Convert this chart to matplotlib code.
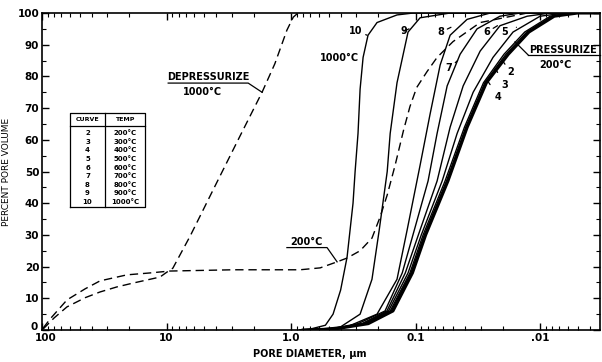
import numpy as np
import matplotlib
matplotlib.use("Agg")
import matplotlib.pyplot as plt
from matplotlib.ticker import FixedLocator, LogLocator, NullFormatter, MultipleLocator

# pore diameter (um) vs percent pore volume
c10_d = [0.85, 0.70, 0.53, 0.46, 0.40, 0.355, 0.318, 0.306, 0.290, 0.279, 0.264, 0.241, 0.204, 0.141, 0.105, 0.0033]
c10_v = [0, 0.3, 1.5, 5, 12.6, 23, 40, 50, 62, 76, 86, 93, 97, 99.4, 100, 100]

c9_d = [0.85, 0.58, 0.40, 0.279, 0.224, 0.196, 0.169, 0.160, 0.141, 0.115, 0.092, 0.053, 0.0033]
c9_v = [0, 0.3, 1, 5, 16, 31.5, 50, 62, 78, 94, 98.5, 100, 100]

c8_d = [0.85, 0.53, 0.355, 0.204, 0.141, 0.117, 0.092, 0.0766, 0.0635, 0.0528, 0.0386, 0.0252, 0.0033]
c8_v = [0, 0.3, 1, 5, 16, 31.5, 52, 68, 83.6, 93, 98, 100, 100]

c7_d = [0.80, 0.46, 0.29, 0.176, 0.128, 0.105, 0.0794, 0.0672, 0.0558, 0.0439, 0.0321, 0.021, 0.0145, 0.0033]
c7_v = [0, 0.5, 2, 6, 18, 30, 47, 62, 77, 87, 95, 99, 100, 100]

c6_d = [0.80, 0.46, 0.27, 0.17, 0.121, 0.095, 0.0672, 0.0528, 0.0415, 0.0303, 0.021, 0.0127, 0.0083, 0.0033]
c6_v = [0, 0.4, 2, 6, 18, 30, 47, 64, 77, 88, 96, 99, 100, 100]

c5_d = [0.80, 0.46, 0.26, 0.165, 0.115, 0.090, 0.0612, 0.0464, 0.0345, 0.0239, 0.0165, 0.010, 0.0063, 0.0033]
c5_v = [0, 0.4, 2, 6, 18, 30, 47, 62, 75, 86, 94, 99, 100, 100]

c4_d = [0.80, 0.45, 0.25, 0.16, 0.111, 0.087, 0.0580, 0.0405, 0.0285, 0.0195, 0.0133, 0.0083, 0.0055, 0.0033]
c4_v = [0, 0.4, 2, 6, 18, 30, 47, 64, 78, 87, 94, 99, 100, 100]

c3_d = [0.80, 0.45, 0.25, 0.157, 0.109, 0.085, 0.0565, 0.0395, 0.0278, 0.0188, 0.0128, 0.0080, 0.0053, 0.0033]
c3_v = [0, 0.4, 2, 6, 18, 30, 47, 64, 78, 87, 94, 99, 100, 100]

c2_d = [0.80, 0.45, 0.24, 0.152, 0.106, 0.083, 0.0550, 0.0385, 0.0270, 0.0180, 0.0123, 0.0077, 0.0050, 0.0033]
c2_v = [0, 0.3, 2, 6, 18, 30, 47, 64, 78, 87, 94, 99, 100, 100]

dep1000_d = [98, 80, 63, 45, 34.2, 25, 18.6, 11.3, 9.9, 8.9, 6.47, 3.93, 2.57, 1.71, 1.35, 1.08, 0.96, 0.88]
dep1000_v = [0.3, 3.8, 7.3, 10.2, 12, 13.6, 14.8, 16.7, 18.3, 19.5, 29.6, 46.7, 61.2, 75, 84, 94.6, 98.7, 100]

dep200_d = [98, 86, 63, 45, 34.2, 20.8, 13.6, 9.4, 2.9, 1.0, 0.847, 0.584, 0.427, 0.355, 0.279, 0.224, 0.193,
            0.169, 0.146, 0.125, 0.111, 0.098, 0.081, 0.0672, 0.050, 0.0303, 0.0127, 0.0033]
dep200_v = [0.6, 3.5, 9.5, 13, 15.5, 17.4, 18, 18.6, 19, 19, 19, 19.6, 21.5, 22.7, 25, 29, 35.6,
            42.6, 52, 63, 70.5, 76.5, 81.5, 86, 91, 97, 100, 100]

curve_no = ["2", "3", "4", "5", "6", "7", "8", "9", "10"]
curve_temp = ["200°C", "300°C", "400°C", "500°C", "600°C", "700°C", "800°C", "900°C", "1000°C"]

xticks = [100, 10, 1, 0.1, 0.01]
xtick_labels = ["", "10", "1.0", "0.1", ".01"]
yticks = np.arange(0, 101, 10)
ytick_labels = [""] + [str(t) for t in yticks[1:]]

plt.rcParams['font.family'] = 'DejaVu Sans'
plt.rcParams['font.weight'] = 'bold'

fig = plt.figure(figsize=(6.02, 3.62), dpi=100)
ax = fig.add_axes([0.0698, 0.0884, 0.927, 0.8756])

k = 'black'
for d, v in [(c10_d, c10_v), (c9_d, c9_v), (c8_d, c8_v), (c7_d, c7_v), (c6_d, c6_v),
             (c5_d, c5_v), (c4_d, c4_v), (c3_d, c3_v)]:
    ax.plot(d, v, color=k, lw=1.0)
ax.plot(c2_d, c2_v, color=k, lw=2.2)
ax.plot(dep1000_d, dep1000_v, color=k, lw=1.0, ls=(0, (6, 3.5)))
ax.plot(dep200_d, dep200_v, color=k, lw=1.0, ls=(0, (6, 3.5)))

ax.set_xscale('log')
ax.set_xlim(100, 0.0033)
ax.set_ylim(0, 100)

ax.xaxis.set_major_locator(FixedLocator(xticks))
ax.set_xticklabels(xtick_labels)
ax.xaxis.set_minor_locator(LogLocator(base=10, subs=np.arange(2, 10)))
ax.xaxis.set_minor_formatter(NullFormatter())
ax.set_yticks(yticks)
ax.set_yticklabels(ytick_labels)
ax.yaxis.set_minor_locator(MultipleLocator(5))
ax.tick_params(which='both', direction='in', top=True, right=True, labelsize=7.5, pad=2)
ax.tick_params(which='major', length=5, width=1)
ax.tick_params(which='minor', length=3, width=0.8)
for s in ax.spines.values():
    s.set_linewidth(1.2)

# corner labels "100" and "0", nudged apart like the original
ax.annotate("100", xy=(0, 0), xycoords='axes fraction', xytext=(3, -2.5), textcoords='offset points',
            fontsize=7.5, ha='center', va='top')
ax.annotate("0", xy=(0, 0), xycoords='axes fraction', xytext=(-3, 2.2), textcoords='offset points',
            fontsize=7.5, ha='right', va='center')

ax.set_ylabel("PERCENT PORE VOLUME", fontsize=6.5, labelpad=5)
fig.text(0.515, 0.022, "PORE DIAMETER, µm", fontsize=7, ha='center', va='center')

fs = 7
ln = dict(arrowstyle='-', color=k, lw=0.9, shrinkA=0, shrinkB=0)

# curve numbers
ax.annotate("10", xy=(0.245, 93), xytext=(0.30, 94.3), fontsize=fs, ha='center', va='center',
            arrowprops=dict(ln, shrinkA=4))
ax.annotate("9", xy=(0.113, 95), xytext=(0.124, 94.3), fontsize=fs, ha='center', va='center',
            arrowprops=dict(ln, shrinkA=4))
ax.annotate("8", xy=(0.052, 95.5), xytext=(0.0624, 94), fontsize=fs, ha='center', va='center',
            arrowprops=dict(ln, shrinkA=4))
ax.annotate("7", xy=(0.046, 85), xytext=(0.0538, 82.6), fontsize=fs, ha='center', va='center',
            arrowprops=dict(ln, shrinkA=4))
ax.annotate("6", xy=(0.022, 96), xytext=(0.0267, 94), fontsize=fs, ha='center', va='center',
            arrowprops=dict(ln, shrinkA=4))
ax.annotate("5", xy=(0.0155, 95.5), xytext=(0.0191, 94), fontsize=fs, ha='center', va='center',
            arrowprops=dict(ln, shrinkA=4))
ax.text(0.285, 85.8, "1000°C", fontsize=fs, ha='right', va='center')

for lab, xy, xt in [("2", (0.0202, 85.2), (0.0174, 81.4)),
                    ("3", (0.0230, 82.6), (0.0191, 77.3)),
                    ("4", (0.0267, 78.9), (0.0217, 73.5))]:
    ax.annotate(lab, xy=xy, xytext=xt, fontsize=fs, ha='center', va='center',
                arrowprops=dict(ln, shrinkA=4))

# pressurize label
ax.text(0.00653, 88.3, "PRESSURIZE", fontsize=fs, ha='center', va='center')
ax.text(0.00758, 83.6, "200°C", fontsize=fs, ha='center', va='center')
ax.plot([0.0125, 0.0033], [86.8, 86.8], color=k, lw=0.9, clip_on=False)
ax.plot([0.0159, 0.0125], [90.9, 86.8], color=k, lw=0.9)

# depressurize 1000
ax.text(4.65, 79.8, "DEPRESSURIZE", fontsize=fs, ha='center', va='center')
ax.text(5.1, 75.2, "1000°C", fontsize=fs, ha='center', va='center')
ax.plot([9.7, 2.21, 1.71], [77.9, 77.9, 75.0], color=k, lw=0.9)

# depressurize 200
ax.text(0.759, 27.9, "200°C", fontsize=fs, ha='center', va='center')
ax.plot([1.08, 0.514, 0.427], [26.0, 26.0, 21.5], color=k, lw=0.9)

# legend table
tr = ax.transAxes
x0, x1, xm = 0.0502, 0.1846, 0.1129
y0, y1, yh = 0.388, 0.6845, 0.6435
ax.plot([x0, x1, x1, x0, x0], [y0, y0, y1, y1, y0], transform=tr, color=k, lw=0.9)
ax.plot([x0, x1], [yh, yh], transform=tr, color=k, lw=0.9)
ax.plot([xm, xm], [y0, y1], transform=tr, color=k, lw=0.9)
ax.text((x0 + xm) / 2, 0.664, "CURVE", transform=tr, fontsize=4.5, ha='center', va='center')
ax.text((xm + x1) / 2, 0.664, "TEMP", transform=tr, fontsize=4.5, ha='center', va='center')
ys = np.linspace(0.6215, 0.4038, len(curve_no))
for n, t, yy in zip(curve_no, curve_temp, ys):
    ax.text((x0 + xm) / 2, yy, n, transform=tr, fontsize=5, ha='center', va='center')
    ax.text((xm + x1) / 2, yy, t, transform=tr, fontsize=5, ha='center', va='center')

fig.savefig("out.png", dpi=100)
